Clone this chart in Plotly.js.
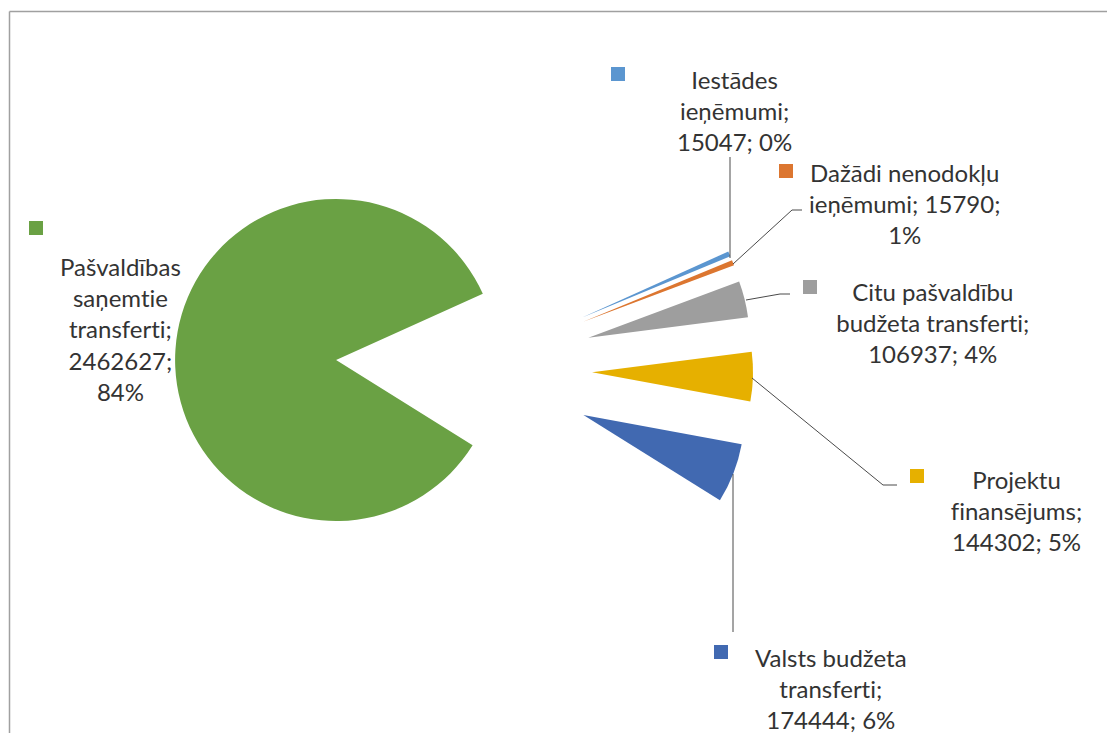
<!DOCTYPE html>
<html>
<head>
<meta charset="utf-8">
<script src="https://cdn.plot.ly/plotly-3.0.1.min.js"></script>
<style>
html,body{margin:0;padding:0;background:#fff;}
#chart{width:1107px;height:733px;}
#chart text{font-variant-ligatures:none;font-feature-settings:"liga" 0;}
</style>
</head>
<body>
<div id="chart"></div>
<script>
// ---- data ----
const names = ['Iestādes ieņēmumi', 'Dažādi nenodokļu ieņēmumi', 'Citu pašvaldību budžeta transferti', 'Projektu finansējums', 'Valsts budžeta transferti', 'Pašvaldības saņemtie transferti'];
const values = [15047, 15790, 106937, 144302, 174444, 2462627];
const pctLabels = [0, 1, 4, 5, 6, 84];
const colors = ['#5B96D0', '#DC7630', '#9E9E9E', '#E6B000', '#4169B1', '#6AA144'];
// label text templates (line breaks as in the reference)
const labelTemplates = [
  'Iestādes<br>ieņēmumi;<br>{v}; {p}%',
  'Dažādi nenodokļu<br>ieņēmumi; {v};<br>{p}%',
  'Citu pašvaldību<br>budžeta transferti;<br>{v}; {p}%',
  'Projektu<br>finansējums;<br>{v}; {p}%',
  'Valsts budžeta<br>transferti;<br>{v}; {p}%',
  'Pašvaldības<br>saņemtie<br>transferti;<br>{v};<br>{p}%'
];

// ---- layout helpers (pixel -> paper) ----
const W = 1107, H = 733;
const px = x => x / W;
const py = y => 1 - y / H;

// label placement (pixel centres), key squares, leader lines
const labelPos = [[735, 110], [904, 204], [933, 322], [1016, 510], [831, 688], [120, 329]];
const keyPos = [[618, 74], [786, 171], [810, 287], [917, 476], [721, 652], [36, 228]];
const leaders = [
  [[730, 258], [730, 157]],
  [[733, 264], [792, 210], [802, 210]],
  [[746, 300], [780, 294], [790, 294]],
  [[752, 378], [883, 485], [897, 485]],
  [[733, 474], [733, 632]],
  null
];

const texts = labelTemplates.map((t, i) => t.replace('{v}', values[i]).replace('{p}', pctLabels[i]));

const annotations = texts.map((t, i) => ({
  xref: 'paper', yref: 'paper',
  x: px(labelPos[i][0]), y: py(labelPos[i][1]),
  xanchor: 'center', yanchor: 'middle',
  text: t, showarrow: false, align: 'center',
  font: {family: 'Lato, "Open Sans", sans-serif', size: 24, color: '#333333'}
}));

const shapes = [];
// chart area border (top and left)
shapes.push({type: 'line', xref: 'paper', yref: 'paper', x0: px(9.5), x1: 1, y0: py(11.5), y1: py(11.5), line: {color: '#a0a0a0', width: 1.5}});
shapes.push({type: 'line', xref: 'paper', yref: 'paper', x0: px(9.5), x1: px(9.5), y0: py(11.5), y1: 0, line: {color: '#a0a0a0', width: 1.5}});
// legend keys
const ks = 7;
keyPos.forEach((k, i) => {
  shapes.push({type: 'rect', xref: 'paper', yref: 'paper',
    x0: px(k[0] - ks), x1: px(k[0] + ks), y0: py(k[1] + ks), y1: py(k[1] - ks),
    fillcolor: colors[i], line: {width: 0}});
});
// leader lines
leaders.forEach(l => {
  if (!l) return;
  const d = l.map((p, j) => (j ? 'L' : 'M') + px(p[0]) + ',' + py(p[1])).join(' ');
  shapes.push({type: 'path', xref: 'paper', yref: 'paper', path: d, line: {color: '#4a4a4a', width: 1}});
});

const trace = {
  type: 'pie',
  labels: names,
  values: values,
  sort: false,
  direction: 'clockwise',
  rotation: 65.7,
  pull: values.map(() => 0.796),
  marker: {colors: colors, line: {width: 0}},
  textinfo: 'none',
  hoverinfo: 'label+value+percent',
  domain: {x: [0.0691, 0.7691], y: [0.1027, 0.8916]},
  showlegend: false
};

const layout = {
  width: W, height: H,
  margin: {l: 0, r: 0, t: 0, b: 0},
  paper_bgcolor: '#fff',
  showlegend: false,
  annotations: annotations,
  shapes: shapes
};

Plotly.newPlot('chart', [trace], layout, {displayModeBar: false, staticPlot: true});
</script>
</body>
</html>
